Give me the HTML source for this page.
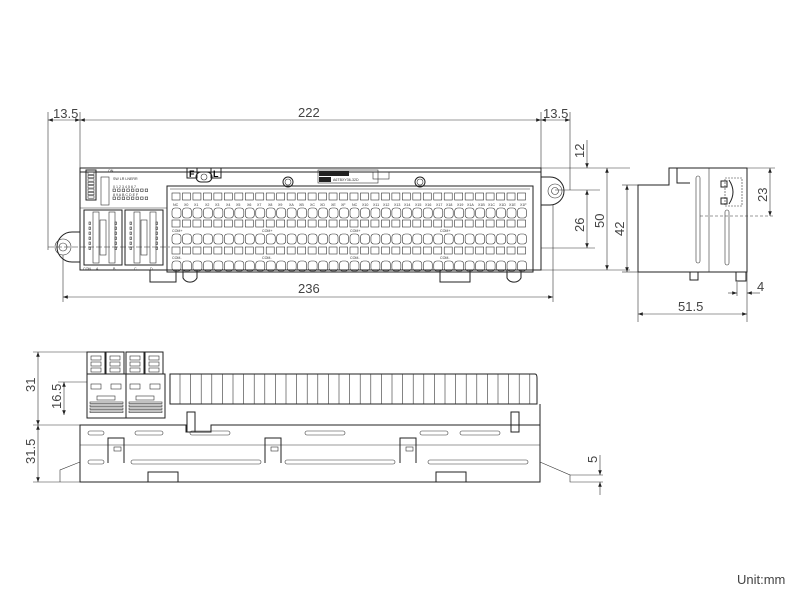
<!DOCTYPE html>
<html><head><meta charset="utf-8"><style>
html,body{margin:0;padding:0;background:#fff;}
svg{display:block;font-family:"Liberation Sans",sans-serif;}
.l{stroke:#222;stroke-width:1;fill:none}
.t{stroke:#333;stroke-width:0.6;fill:none}
.d{stroke:#333;stroke-width:0.6;fill:none}
.dim{font-size:13px;fill:#444}
.tl{font-size:3.6px;fill:#333}
</style></head><body>
<svg id="s" width="800" height="600" viewBox="0 0 800 600" xmlns="http://www.w3.org/2000/svg">
<defs><marker id="a" markerWidth="8" markerHeight="6" refX="8" refY="3" orient="auto-start-reverse"><path d="M0,0 L8,3 L0,6z" fill="#222"/></marker></defs>
<!-- ===== FRONT VIEW ===== -->
<line class="d" x1="48" y1="112" x2="48" y2="250"/>
<line class="d" x1="80" y1="112" x2="80" y2="168"/>
<line class="d" x1="541" y1="112" x2="541" y2="168"/>
<line class="d" x1="570" y1="112" x2="570" y2="190"/>
<line class="d" x1="48" y1="120" x2="80" y2="120" marker-start="url(#a)" marker-end="url(#a)"/>
<line class="d" x1="80" y1="120" x2="541" y2="120" marker-start="url(#a)" marker-end="url(#a)"/>
<line class="d" x1="541" y1="120" x2="570" y2="120" marker-start="url(#a)" marker-end="url(#a)"/>
<text class="dim" x="53" y="118">13.5</text>
<text class="dim" x="298" y="117">222</text>
<text class="dim" x="543" y="118">13.5</text>
<line class="d" x1="63" y1="255" x2="63" y2="302"/>
<line class="d" x1="553" y1="205" x2="553" y2="302"/>
<line class="d" x1="63" y1="297" x2="553" y2="297" marker-start="url(#a)" marker-end="url(#a)"/>
<text class="dim" x="298" y="293">236</text>
<line class="d" x1="541" y1="168" x2="630" y2="168"/>
<line class="d" x1="541" y1="270" x2="630" y2="270"/>
<line class="d" x1="555" y1="190" x2="600" y2="190"/>
<line class="d" x1="541" y1="248" x2="595" y2="248"/>
<line class="d" x1="587" y1="140" x2="587" y2="168" marker-end="url(#a)"/>
<text class="dim" transform="translate(584,158) rotate(-90)">12</text>
<line class="d" x1="587" y1="190" x2="587" y2="248" marker-start="url(#a)" marker-end="url(#a)"/>
<text class="dim" transform="translate(584,232) rotate(-90)">26</text>
<line class="d" x1="607" y1="168" x2="607" y2="270" marker-start="url(#a)" marker-end="url(#a)"/>
<text class="dim" transform="translate(604,228) rotate(-90)">50</text>
<rect class="l" x="80" y="168" width="461" height="102"/>
<rect class="l" x="80" y="168" width="461" height="4"/>
<line class="t" x1="80" y1="208" x2="167" y2="208"/>
<path class="l" d="M80,232 L72,232 A15,15 0 0 0 72,262 L80,262"/>
<circle class="t" cx="63" cy="247" r="8"/><circle class="t" cx="63" cy="247" r="4"/>
<line class="t" x1="48" y1="247" x2="170" y2="247" stroke-dasharray="6,2"/>
<path class="l" d="M541,177 L550,177 A14,14 0 0 1 550,205 L541,205"/>
<circle class="t" cx="555" cy="191" r="7"/><circle class="t" cx="555" cy="191" r="3.5"/>
<rect class="l" x="86" y="170" width="10" height="30"/>
<g id="dipg"></g>
<rect class="t" x="101" y="177" width="8" height="28"/>
<text class="tl" x="108" y="172">ON</text>
<text class="tl" x="113" y="180">SW LR LNERR</text>
<g id="leds"></g>
<text class="tl" x="113" y="188">0 1 2 3 4 5 6 7</text>
<text class="tl" x="113" y="196">8 9 A B C D E F</text>
<rect class="l" x="84" y="210" width="38" height="55"/>
<rect class="l" x="125" y="210" width="38" height="55"/>
<g id="conn"></g>
<text class="tl" x="83" y="270">CON</text><text class="tl" x="96" y="270">A</text><text class="tl" x="113" y="270">B</text><text class="tl" x="134" y="270">C</text><text class="tl" x="150" y="270">D</text>
<path class="l" d="M150,270 L150,282 L176,282 L176,270"/>
<path class="l" d="M183,270 L183,278 A8,8 0 0 0 197,278 L197,270"/>
<path class="l" d="M440,270 L440,282 L470,282 L470,270"/>
<path class="l" d="M507,270 L507,278 A8,8 0 0 0 521,278 L521,270"/>
<rect class="l" x="187" y="168" width="10" height="10"/><text x="189" y="177" font-size="9" font-weight="bold">F</text>
<rect class="l" x="211" y="168" width="10" height="10"/><text x="213" y="177" font-size="9" font-weight="bold">L</text>
<rect class="l" x="196" y="172" width="16" height="10" rx="5"/>
<circle class="t" cx="204" cy="177" r="3"/>
<circle class="l" cx="288" cy="182" r="5"/><circle class="t" cx="288" cy="182" r="3"/>
<circle class="l" cx="420" cy="182" r="5"/><circle class="t" cx="420" cy="182" r="3"/>
<rect class="t" x="318" y="170" width="60" height="13"/>
<rect x="319" y="171" width="30" height="5" fill="#222"/>
<rect x="319" y="177" width="12" height="5" fill="#222"/>
<text class="tl" x="333" y="181">A6TBXY36-32D</text>
<rect class="t" x="373" y="172" width="16" height="7"/>
<rect class="l" x="167" y="186" width="366" height="86"/>
<line class="t" x1="170" y1="189" x2="530" y2="189"/>
<g id="term"></g>
<g class="tl">
<text x="173" y="206">NC</text><text x="184" y="206">X0</text><text x="194" y="206">X1</text><text x="205" y="206">X2</text><text x="215" y="206">X3</text><text x="226" y="206">X4</text><text x="236" y="206">X5</text><text x="247" y="206">X6</text><text x="257" y="206">X7</text><text x="268" y="206">X8</text><text x="278" y="206">X9</text><text x="289" y="206">XA</text><text x="299" y="206">XB</text><text x="310" y="206">XC</text><text x="320" y="206">XD</text><text x="331" y="206">XE</text><text x="341" y="206">XF</text><text x="352" y="206">NC</text><text x="362" y="206">X10</text><text x="373" y="206">X11</text><text x="383" y="206">X12</text><text x="394" y="206">X13</text><text x="404" y="206">X14</text><text x="415" y="206">X15</text><text x="425" y="206">X16</text><text x="436" y="206">X17</text><text x="446" y="206">X18</text><text x="457" y="206">X19</text><text x="467" y="206">X1A</text><text x="478" y="206">X1B</text><text x="488" y="206">X1C</text><text x="499" y="206">X1D</text><text x="509" y="206">X1E</text><text x="520" y="206">X1F</text>
<text x="172" y="232">COM+</text><text x="262" y="232">COM+</text><text x="350" y="232">COM+</text><text x="440" y="232">COM+</text>
<text x="172" y="259">COM-</text><text x="262" y="259">COM-</text><text x="350" y="259">COM-</text><text x="440" y="259">COM-</text>
</g>
<!-- ===== SIDE VIEW ===== -->
<path class="l" d="M638,185 L669,185 L669,168 L747,168 L747,272 L638,272 Z"/>
<line class="t" x1="709" y1="168" x2="709" y2="272"/>
<path class="l" d="M677,168 L677,183 L690,183"/>
<rect class="t" x="696" y="176" width="4" height="87" rx="2"/>
<rect class="t" x="725" y="210" width="4" height="55" rx="2"/>
<rect class="t" x="725" y="178" width="17" height="28" stroke-dasharray="2,1"/>
<path class="l" d="M729,180 Q737,192 729,204"/>
<rect class="l" x="721" y="181" width="6" height="6"/><rect class="l" x="721" y="198" width="6" height="6"/>
<rect class="l" x="690" y="272" width="8" height="8"/>
<rect class="l" x="736" y="272" width="10" height="9"/>
<line class="d" x1="700" y1="216" x2="775" y2="216" stroke-dasharray="3,2"/>
<line class="d" x1="747" y1="168" x2="775" y2="168"/>
<line class="d" x1="770" y1="168" x2="770" y2="216" marker-start="url(#a)" marker-end="url(#a)"/>
<text class="dim" transform="translate(767,202) rotate(-90)">23</text>
<line class="d" x1="622" y1="185" x2="638" y2="185"/><line class="d" x1="622" y1="272" x2="638" y2="272"/>
<line class="d" x1="627" y1="185" x2="627" y2="272" marker-start="url(#a)" marker-end="url(#a)"/>
<text class="dim" transform="translate(624,236) rotate(-90)">42</text>
<line class="d" x1="638" y1="272" x2="638" y2="322"/><line class="d" x1="747" y1="272" x2="747" y2="322"/>
<line class="d" x1="638" y1="314" x2="747" y2="314" marker-start="url(#a)" marker-end="url(#a)"/>
<text class="dim" x="678" y="311">51.5</text>
<line class="d" x1="737" y1="282" x2="737" y2="296"/>
<line class="d" x1="728" y1="293" x2="737" y2="293" marker-end="url(#a)"/>
<line class="d" x1="760" y1="293" x2="747" y2="293" marker-end="url(#a)"/>
<text class="dim" x="757" y="291">4</text>
<!-- ===== BOTTOM VIEW ===== -->
<line class="d" x1="33" y1="352" x2="87" y2="352"/>
<line class="d" x1="33" y1="425" x2="80" y2="425"/>
<line class="d" x1="33" y1="482" x2="80" y2="482"/>
<line class="d" x1="58" y1="382" x2="87" y2="382"/>
<line class="d" x1="38" y1="352" x2="38" y2="425" marker-start="url(#a)" marker-end="url(#a)"/>
<text class="dim" transform="translate(35,392) rotate(-90)">31</text>
<line class="d" x1="38" y1="425" x2="38" y2="482" marker-start="url(#a)" marker-end="url(#a)"/>
<text class="dim" transform="translate(35,464) rotate(-90)">31.5</text>
<line class="d" x1="64" y1="382" x2="64" y2="415" marker-start="url(#a)" marker-end="url(#a)"/>
<text class="dim" transform="translate(61,409) rotate(-90)">16.5</text>
<g id="bconn"></g>
<path class="l" d="M170,374 L535,374 Q537,374 537,378 L537,404 L170,404 Z"/>
<g id="fins"></g>
<path class="l" d="M80,482 L80,425 L186,425 L186,432 L211,432 L211,425 L540,425 L540,482 Z"/>
<line class="l" x1="540" y1="404" x2="540" y2="425"/>
<line class="t" x1="80" y1="445" x2="540" y2="445"/>
<rect class="l" x="187" y="412" width="8" height="20"/>
<rect class="l" x="511" y="412" width="8" height="20"/>
<path class="l" d="M108,463 L108,438 L124,438 L124,463"/>
<path class="l" d="M265,463 L265,438 L281,438 L281,463"/>
<path class="l" d="M400,463 L400,438 L416,438 L416,463"/>
<g id="slots"></g>
<path class="l" d="M148,482 L148,472 L178,472 L178,482"/>
<path class="l" d="M436,482 L436,472 L466,472 L466,482"/>
<path class="t" d="M60,482 L60,470 L80,462"/>
<path class="t" d="M540,462 L570,475 L570,482 L603,482"/>
<line class="t" x1="570" y1="475" x2="603" y2="475"/>
<line class="d" x1="600" y1="455" x2="600" y2="475" marker-end="url(#a)"/>
<line class="d" x1="600" y1="495" x2="600" y2="482" marker-end="url(#a)"/>
<text class="dim" transform="translate(597,463) rotate(-90)">5</text>
<text x="737" y="584" font-size="13" fill="#444">Unit:mm</text>
</svg>
<script>
const s=document.getElementById('s'),NS='http://www.w3.org/2000/svg';
function r(g,x,y,w,h,c,extra){const e=document.createElementNS(NS,'rect');e.setAttribute('x',x);e.setAttribute('y',y);e.setAttribute('width',w);e.setAttribute('height',h);e.setAttribute('class',c||'t');if(extra)for(const k in extra)e.setAttribute(k,extra[k]);document.getElementById(g).appendChild(e);}
for(let i=0;i<8;i++)r('dipg',88,172+i*3.4,6,2.4,'t',{fill:'#444'});
for(let j=0;j<8;j++){r('leds',113+j*4.6,189,2.5,2.5);r('leds',113+j*4.6,197,2.5,2.5);}
for(const cx of [84,125]){r('conn',cx+9,212,6,51);r('conn',cx+25,212,6,51);r('conn',cx+16,220,6,35);
 for(let k=0;k<6;k++){r('conn',cx+5,222+k*5,1.5,2.5,'t',{fill:'#222'});r('conn',cx+31,222+k*5,1.5,2.5,'t',{fill:'#222'});}}
const w=10.47;
for(let i=0;i<34;i++){const x=172+i*w;
 r('term',x,193,8,7);r('term',x,208,9,10,'t',{rx:3});
 r('term',x,220,8,7);r('term',x,234,9,10,'t',{rx:3});
 r('term',x,247,8,7);r('term',x,261,9,10,'t',{rx:3});}
for(const x of [87,106,126,145]){r('bconn',x,352,18,22,'l');r('bconn',x+4,356,10,4);r('bconn',x+4,362,10,4);r('bconn',x+4,368,10,4);}
r('bconn',87,374,39,44,'l');r('bconn',126,374,39,44,'l');
for(const x of [87,126]){r('bconn',x+4,384,10,5);r('bconn',x+24,384,10,5);r('bconn',x+10,396,18,4,'t',{fill:'#999'});for(let k=0;k<4;k++)r('bconn',x+3,402+k*3,33,1.5);}
for(let x=180;x<535;x+=10.6){const l=document.createElementNS(NS,'line');l.setAttribute('x1',x);l.setAttribute('x2',x);l.setAttribute('y1',374);l.setAttribute('y2',404);l.setAttribute('class','t');document.getElementById('fins').appendChild(l);}
for(const a of [[88,16],[135,28],[190,40],[305,40],[420,28],[460,40]])r('slots',a[0],431,a[1],4,'t',{rx:2});
for(const a of [[88,16],[131,130],[285,110],[428,100]])r('slots',a[0],460,a[1],4,'t',{rx:2});
r('slots',114,447,7,4);r('slots',271,447,7,4);r('slots',406,447,7,4);
</script>
</body></html>
